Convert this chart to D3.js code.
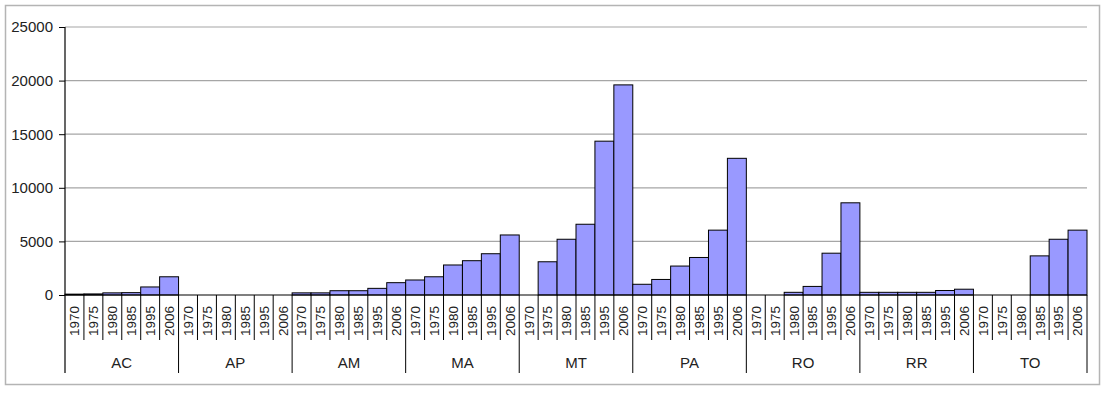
<!DOCTYPE html>
<html>
<head>
<meta charset="utf-8">
<script src="https://cdn.jsdelivr.net/npm/d3@7"></script>
<style>
  html, body { margin: 0; padding: 0; background: #fff; }
  svg { display: block; font-family: "Liberation Sans", Arial, sans-serif; }
</style>
</head>
<body>
<svg id="chart" width="1103" height="393"></svg>
<script>
const states = ["AC", "AP", "AM", "MA", "MT", "PA", "RO", "RR", "TO"];
const years = ["1970", "1975", "1980", "1985", "1995", "2006"];
const valuesAC = [80, 100, 200, 220, 750, 1700];
const valuesAP = [0, 0, 0, 0, 0, 0];
const valuesAM = [200, 200, 400, 400, 620, 1150];
const valuesMA = [1400, 1700, 2800, 3200, 3850, 5600];
const valuesMT = [0, 3100, 5200, 6600, 14350, 19600];
const valuesPA = [1000, 1450, 2700, 3500, 6050, 12750];
const valuesRO = [0, 0, 250, 800, 3900, 8600];
const valuesRR = [250, 250, 250, 250, 420, 540];
const valuesTO = [0, 0, 0, 3650, 5200, 6050];
const yTicks = [0, 5000, 10000, 15000, 20000, 25000];

const seriesByState = {
  AC: valuesAC, AP: valuesAP, AM: valuesAM, MA: valuesMA, MT: valuesMT,
  PA: valuesPA, RO: valuesRO, RR: valuesRR, TO: valuesTO
};

const svg = d3.select("#chart");
const plotLeft = 65, plotRight = 1087, plotTop = 27, zeroY = 295;

// outer border
svg.append("rect")
  .attr("x", 5.5).attr("y", 5.5).attr("width", 1094).attr("height", 379)
  .attr("fill", "#fff").attr("stroke", "#b4b4b4").attr("stroke-width", 1.5);

const x0 = d3.scaleBand().domain(states).range([plotLeft, plotRight]).paddingInner(0).paddingOuter(0);
const x1 = d3.scaleBand().domain(years).range([0, x0.bandwidth()]).padding(0);
const y = d3.scaleLinear().domain([0, 25000]).range([zeroY, plotTop]);

// gridlines
svg.append("g").selectAll("line")
  .data(yTicks.filter(t => t > 0))
  .join("line")
  .attr("x1", plotLeft).attr("x2", plotRight)
  .attr("y1", d => y(d)).attr("y2", d => y(d))
  .attr("stroke", "#a6a6a6").attr("stroke-width", 1.2);

// y axis
const yAxis = d3.axisLeft(y).tickValues(yTicks).tickSize(6).tickPadding(6).tickFormat(d3.format("d"));
const gy = svg.append("g").attr("transform", `translate(${plotLeft},0)`).call(yAxis);
gy.select(".domain").remove();
gy.selectAll(".tick line").attr("stroke", "#000");
gy.selectAll(".tick text")
  .attr("font-size", 15).attr("fill", "#222")
  .attr("font-family", "Liberation Sans, Arial, sans-serif");

// bars
const flat = [];
states.forEach(s => years.forEach((yr, i) => flat.push({ state: s, year: yr, value: seriesByState[s][i] })));

svg.append("g").selectAll("rect")
  .data(flat.filter(d => d.value > 0))
  .join("rect")
  .attr("x", d => x0(d.state) + x1(d.year))
  .attr("width", x1.bandwidth())
  .attr("y", d => y(d.value))
  .attr("height", d => y(0) - y(d.value))
  .attr("fill", "#9999ff")
  .attr("stroke", "#000")
  .attr("stroke-width", 1);

// left axis line (extends through category area)
svg.append("line")
  .attr("x1", plotLeft).attr("x2", plotLeft).attr("y1", plotTop).attr("y2", 373)
  .attr("stroke", "#000").attr("stroke-width", 1.2);

// x axis baseline
svg.append("line")
  .attr("x1", plotLeft).attr("x2", plotRight).attr("y1", zeroY).attr("y2", zeroY)
  .attr("stroke", "#000").attr("stroke-width", 1.2);

// year separators
const sep = svg.append("g");
states.forEach(s => {
  years.forEach((yr, i) => {
    if (i > 0) {
      const xx = x0(s) + x1(yr);
      sep.append("line")
        .attr("x1", xx).attr("x2", xx).attr("y1", zeroY).attr("y2", 340)
        .attr("stroke", "#000").attr("stroke-width", 1);
    }
  });
  const xe = x0(s) + x0.bandwidth();
  sep.append("line")
    .attr("x1", xe).attr("x2", xe).attr("y1", zeroY).attr("y2", 373)
    .attr("stroke", "#000").attr("stroke-width", 1);
});

// year labels
svg.append("g").selectAll("text")
  .data(flat)
  .join("text")
  .attr("transform", d => `translate(${x0(d.state) + x1(d.year) + x1.bandwidth() / 2},306) rotate(-90)`)
  .attr("text-anchor", "end")
  .attr("dy", "0.36em")
  .attr("font-size", 13.5)
  .attr("fill", "#222")
  .text(d => d.year);

// state labels
svg.append("g").selectAll("text")
  .data(states)
  .join("text")
  .attr("x", d => x0(d) + x0.bandwidth() / 2)
  .attr("y", 368)
  .attr("text-anchor", "middle")
  .attr("font-size", 15)
  .attr("fill", "#222")
  .text(d => d);
</script>
</body>
</html>
